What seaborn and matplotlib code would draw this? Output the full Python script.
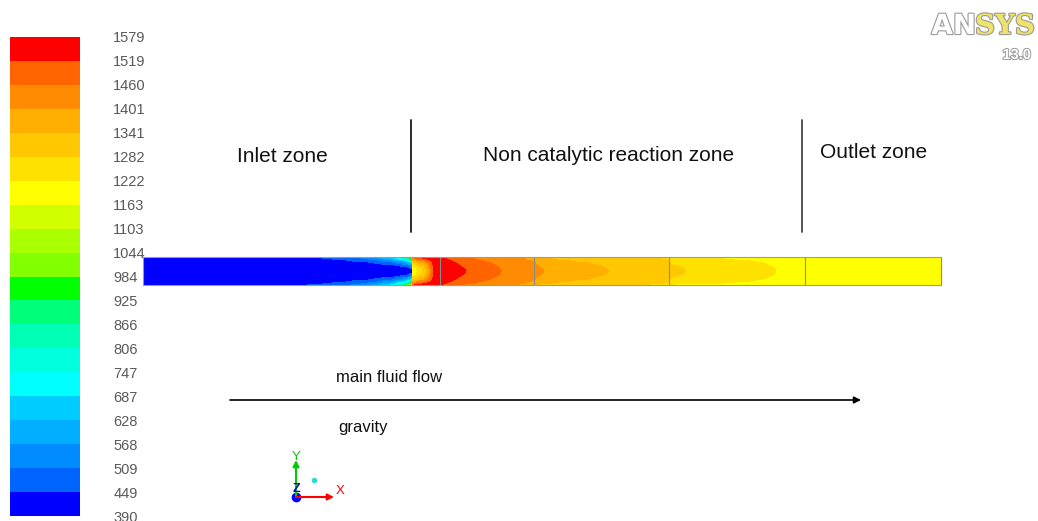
import numpy as np
import matplotlib
matplotlib.use("Agg")
import matplotlib.pyplot as plt
import matplotlib.patheffects as pe
from matplotlib.colors import ListedColormap
import seaborn as sns

# ---------------- data ----------------
band_labels = [390, 449, 509, 568, 628, 687, 747, 806, 866, 925, 984,
               1044, 1103, 1163, 1222, 1282, 1341, 1401, 1460, 1519, 1579]
band_colors = ["#0000ff", "#0064ff", "#008cff", "#00afff", "#00cdff",
               "#00ffff", "#00ffdc", "#00ffb4", "#00ff78", "#00ff00",
               "#82ff00", "#aaff00", "#d2ff00", "#ffff00", "#ffe100",
               "#ffc800", "#ffaf00", "#ff8c00", "#ff6400", "#ff0000"]

# axial position along the tube (tube units), centreline and wall temperatures (K)
axial_pos   = [0, 154, 197, 227, 247, 262, 268.9,
               269.1, 272, 275, 281, 285, 289, 293, 296.9,
               297.1, 301, 320, 357, 377, 390.9,
               391.1, 397, 402, 440, 465, 500, 525.9,
               526.1, 532, 544, 635, 661.9,
               662.1, 798]
center_temp = [390, 390, 390, 390, 392, 400, 440,
               1170, 1200, 1240, 1300, 1380, 1500, 1560, 1575,
               1578, 1570, 1525, 1462, 1440, 1420,
               1415, 1408, 1400, 1370, 1342, 1318, 1295,
               1300, 1295, 1281, 1221, 1210,
               1195, 1195]
wall_temp   = [395, 440, 480, 560, 680, 900, 1150,
               1480, 1540, 1570, 1579, 1579, 1579, 1579, 1579,
               1570, 1519, 1463, 1420, 1401, 1380,
               1390, 1341, 1335, 1300, 1295, 1285, 1275,
               1260, 1222, 1220, 1205, 1200,
               1195, 1195]
tube_length = 798
section_walls = [297, 391, 526, 662]

zone_names = ["Inlet zone", "Non catalytic reaction zone", "Outlet zone"]
flow_label = "main fluid flow"
gravity_label = "gravity"

# ---------------- figure ----------------
sns.set_theme(style="white")
plt.rcParams["font.family"] = ["Liberation Sans", "DejaVu Sans"]

W, H = 1038, 521
fig = plt.figure(figsize=(W / 100, H / 100), dpi=100)
fig.patch.set_facecolor("white")

def px_axes(x0, y0, x1, y1):
    return fig.add_axes([x0 / W, 1 - y1 / H, (x1 - x0) / W, (y1 - y0) / H])

cmap = ListedColormap(band_colors)
vmin, vmax = band_labels[0], band_labels[-1]

# overlay axes in pixel coordinates for annotations
ov = fig.add_axes([0, 0, 1, 1], zorder=0)
ov.set_xlim(0, W)
ov.set_ylim(H, 0)
ov.axis("off")

# ---------------- colour bar (seaborn heatmap) ----------------
cax = px_axes(10, 37, 80, 516)
step = (vmax - vmin) / 20
mids = np.array([vmin + step * (i + 0.5) for i in range(20)])[::-1].reshape(-1, 1)
sns.heatmap(mids, ax=cax, cmap=cmap, vmin=vmin, vmax=vmax, cbar=False,
            xticklabels=False, yticklabels=False)
cax.set_yticks(np.arange(21))
cax.set_yticklabels([str(v) for v in band_labels[::-1]])
cax.yaxis.tick_right()
cax.tick_params(axis="y", length=0, pad=24, labelsize=10.5, labelcolor="#5a5a5a",
                labelright=True, labelleft=False)
for lbl in cax.get_yticklabels():
    lbl.set_fontfamily(["Liberation Sans Narrow", "Liberation Sans", "DejaVu Sans"])
    lbl.set_rotation(0)
    lbl.set_clip_on(False)
cax.set_xticks([])

# ---------------- tube temperature field (seaborn heatmap) ----------------
tax = px_axes(143, 257, 941, 285)
s = np.arange(tube_length) + 0.5
r = np.linspace(-1, 1, 41)
tc = np.interp(s, axial_pos, center_temp)
tw = np.interp(s, axial_pos, wall_temp)
field = tc[None, :] + (tw - tc)[None, :] * (r[:, None] ** 2)
sns.heatmap(field, ax=tax, cmap=cmap, vmin=vmin, vmax=vmax, cbar=False,
            xticklabels=False, yticklabels=False)
tax.set_xticks([])
tax.set_yticks([])
for name, sp in tax.spines.items():
    sp.set_visible(True)
    sp.set_color("#9a9a9a")
    sp.set_linewidth(0.8)
tax.spines["right"].set_color("#ff6a00")
for xw in section_walls:
    tax.axvline(xw, color="#8a8a8a", lw=0.8)

# ---------------- annotations ----------------
ov.plot([411, 411], [120, 232], color="#1a1a1a", lw=1.3)
ov.plot([802, 802], [120, 232], color="#444444", lw=1.3)
ov.text(237, 162, zone_names[0], fontsize=15, color="#111111", va="baseline")
ov.text(483, 161, zone_names[1], fontsize=15, color="#111111", va="baseline")
ov.text(820, 158, zone_names[2], fontsize=15, color="#111111", va="baseline")

ov.annotate("", xy=(861, 400), xytext=(230, 400),
            arrowprops=dict(arrowstyle="-|>", color="black", lw=1.2,
                            mutation_scale=10, shrinkA=0, shrinkB=0))
ov.text(336, 382, flow_label, fontsize=12, color="#111111", va="baseline")
ov.text(338, 432, gravity_label, fontsize=12, color="#111111", va="baseline")

# ANSYS logo
stroke = [pe.withStroke(linewidth=1.6, foreground="#9a9a9a")]
ov.text(976, 34, "AN", fontsize=20, fontweight="bold", color="white",
        ha="right", va="baseline", path_effects=stroke, family="DejaVu Sans")
ov.text(975, 34, "SYS", fontsize=20, fontweight="bold", color="#efe36a",
        ha="left", va="baseline", path_effects=stroke, family="DejaVu Serif")
ov.text(1031, 59, "13.0", fontsize=10.5, fontweight="bold", color="white",
        ha="right", va="baseline", path_effects=[pe.withStroke(linewidth=1.4, foreground="#9a9a9a")])

# axis triad
ov.annotate("", xy=(296, 460), xytext=(296, 497),
            arrowprops=dict(arrowstyle="-|>", color="#00cc00", lw=1.5,
                            mutation_scale=9, shrinkA=0, shrinkB=0))
ov.annotate("", xy=(334, 497), xytext=(296, 497),
            arrowprops=dict(arrowstyle="-|>", color="#ff0000", lw=1.5,
                            mutation_scale=9, shrinkA=0, shrinkB=0))
ov.text(296, 460, "Y", color="#00cc00", fontsize=9.5, ha="center", va="baseline")
ov.text(336, 494, "X", color="#ff0000", fontsize=9.5, ha="left", va="baseline")
ov.text(296, 492, "Z", color="#0000dd", fontsize=9, ha="center", va="baseline",
        fontweight="bold")
ov.plot([296], [497], "o", color="#0000ff", ms=6)
ov.plot([314], [480], "o", color="#22dddd", ms=3)

fig.savefig("out.png", dpi=100, facecolor="white")
